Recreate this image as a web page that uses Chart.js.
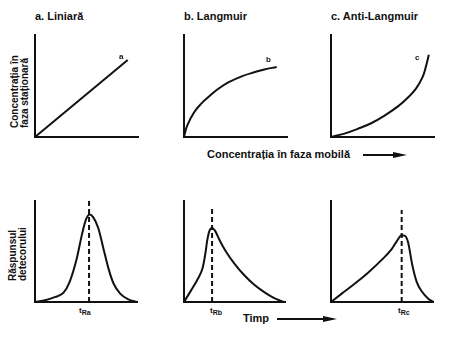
<!DOCTYPE html>
<html>
<head>
<meta charset="utf-8">
<script src="https://cdn.jsdelivr.net/npm/chart.js@4.4.1/dist/chart.umd.min.js"></script>
<style>
  body { margin: 0; background: #fff; }
  #wrap { position: relative; width: 460px; height: 344px; overflow: hidden; background: #fff;
          font-family: "Liberation Sans", Arial, sans-serif; font-weight: bold; color: #111; }
  canvas { position: absolute; }
  .txt { position: absolute; white-space: nowrap; font-size: 11px; line-height: 13px; }
  .lbl { position: absolute; font-size: 8px; line-height: 9px; }
  .vt { position: absolute; font-size: 10px; line-height: 10px; white-space: nowrap;
        transform-origin: 0 0; transform: rotate(-90deg); }
  .tr { position: absolute; font-size: 8px; line-height: 9px; }
  .tr sub { font-size: 7px; vertical-align: -2px; }
  .shaft { position: absolute; height: 2px; background: #111; }
  .head { position: absolute; width: 0; height: 0; border-top: 3.5px solid transparent;
          border-bottom: 3.5px solid transparent; border-left: 14px solid #111; }
</style>
</head>
<body>
<div id="wrap">
  <div class="txt" style="left:35px;top:10px">a. Liniară</div>
  <div class="txt" style="left:184px;top:10px">b. Langmuir</div>
  <div class="txt" style="left:331px;top:10px">c. Anti-Langmuir</div>

  <div class="vt" style="left:10px;top:128px">Concentrația în<br>faza staționară</div>
  <div class="vt" style="left:8px;top:281px">Răspunsul<br>detecorului</div>

  <canvas id="isoA" width="111" height="110" style="left:31px;top:31px"></canvas>
  <canvas id="isoB" width="111" height="110" style="left:180px;top:31px"></canvas>
  <canvas id="isoC" width="111" height="110" style="left:327px;top:31px"></canvas>
  <canvas id="peakA" width="110" height="109" style="left:31px;top:197px"></canvas>
  <canvas id="peakB" width="109" height="109" style="left:180px;top:197px"></canvas>
  <canvas id="peakC" width="110" height="109" style="left:327px;top:197px"></canvas>

  <div class="lbl" style="left:119px;top:52px">a</div>
  <div class="lbl" style="left:266px;top:55px">b</div>
  <div class="lbl" style="left:415px;top:53px">c</div>

  <div class="txt" style="left:207px;top:148px">Concentrația în faza mobilă</div>
  <div class="shaft" style="left:363px;top:154px;width:32px"></div>
  <div class="head" style="left:393px;top:151.5px"></div>

  <div class="tr" style="left:79px;top:306px">t<sub>Ra</sub></div>
  <div class="tr" style="left:210px;top:306px">t<sub>Rb</sub></div>
  <div class="tr" style="left:398px;top:306px">t<sub>Rc</sub></div>

  <div class="txt" style="left:243px;top:312px">Timp</div>
  <div class="shaft" style="left:277px;top:318px;width:48px"></div>
  <div class="head" style="left:323px;top:315.5px"></div>
</div>
<script>
// izoterme (unități relative, axele 0..10)
const liniaraX = [0, 9.0];
const liniaraY = [0, 7.55];

const langmuirX = [0, 0.3, 1.0, 1.7, 2.4, 3.3, 4.3, 5.6, 6.9, 7.8, 9.0];
const langmuirY = [0, 1.1, 2.45, 3.3, 3.95, 4.7, 5.35, 5.95, 6.37, 6.62, 6.86];

const antiX = [0, 1.3, 2.6, 3.9, 5.2, 6.5, 7.45, 8.25, 8.9, 9.2, 9.5];
const antiY = [0, 0.33, 0.8, 1.35, 2.1, 3.0, 3.85, 4.75, 5.9, 6.85, 8.07];

// picuri cromatografice
const picAX = [0, 1.0, 2.0, 2.8, 3.4, 4.1, 4.6, 5.0, 5.35, 5.7, 6.2, 6.7, 7.2, 7.7, 8.35, 9.15, 10];
const picAY = [0, 0.17, 0.5, 0.93, 2.0, 4.33, 6.67, 8.17, 8.67, 8.4, 7.33, 5.33, 3.33, 1.83, 0.83, 0.27, 0];

const picBX = [0, 0.7, 1.4, 1.85, 2.1, 2.3, 2.5, 2.77, 3.07, 3.5, 4.15, 4.97, 5.95, 6.93, 7.91, 8.89, 9.87];
const picBY = [0, 1.15, 2.35, 3.4, 4.7, 6.1, 7.0, 7.33, 7.07, 6.17, 5.0, 3.83, 2.67, 1.73, 1.0, 0.4, 0];

const picCX = [0, 1.05, 2.35, 3.66, 4.97, 5.95, 6.44, 6.93, 7.25, 7.55, 7.97, 8.4, 8.89, 9.54, 10.03];
const picCY = [0, 0.83, 1.83, 2.93, 4.17, 5.23, 6.0, 6.6, 6.55, 5.95, 3.67, 2.0, 1.07, 0.33, 0];

// timpi de retenție (x) și capătul de sus al liniei punctate
const tR = { a: 5.3, b: 2.78, c: 6.93 };
const tRTop = { a: 10, b: 9.3, c: 9.1 };

const INK = '#111';

const toPts = (xs, ys) => xs.map((x, i) => ({ x, y: ys[i] }));

function curve(xs, ys, smooth) {
  const ds = {
    data: toPts(xs, ys),
    showLine: true,
    borderColor: INK,
    borderWidth: 2,
    pointRadius: 0,
    fill: false,
    clip: 4
  };
  if (smooth === 'mono') ds.cubicInterpolationMode = 'monotone';
  else ds.tension = smooth || 0;
  return ds;
}

function dashed(x, top) {
  return {
    data: [{ x, y: 0 }, { x, y: top }],
    showLine: true,
    borderColor: INK,
    borderWidth: 2,
    borderDash: [5, 3],
    pointRadius: 0,
    clip: 4
  };
}

const axis = () => ({
  type: 'linear',
  min: 0,
  max: 10,
  ticks: { display: false },
  grid: { display: false, drawTicks: false },
  border: { display: true, color: INK, width: 2 }
});

function panel(id, datasets) {
  new Chart(document.getElementById(id), {
    type: 'scatter',
    data: { datasets },
    options: {
      responsive: false,
      animation: false,
      events: [],
      layout: { padding: 4 },
      plugins: { legend: { display: false }, tooltip: { enabled: false } },
      scales: { x: axis(), y: axis() }
    }
  });
}

panel('isoA', [curve(liniaraX, liniaraY, 0)]);
panel('isoB', [curve(langmuirX, langmuirY, 0.4)]);
panel('isoC', [curve(antiX, antiY, 0.4)]);
panel('peakA', [curve(picAX, picAY, 'mono'), dashed(tR.a, tRTop.a)]);
panel('peakB', [curve(picBX, picBY, 'mono'), dashed(tR.b, tRTop.b)]);
panel('peakC', [curve(picCX, picCY, 'mono'), dashed(tR.c, tRTop.c)]);
</script>
</body>
</html>
